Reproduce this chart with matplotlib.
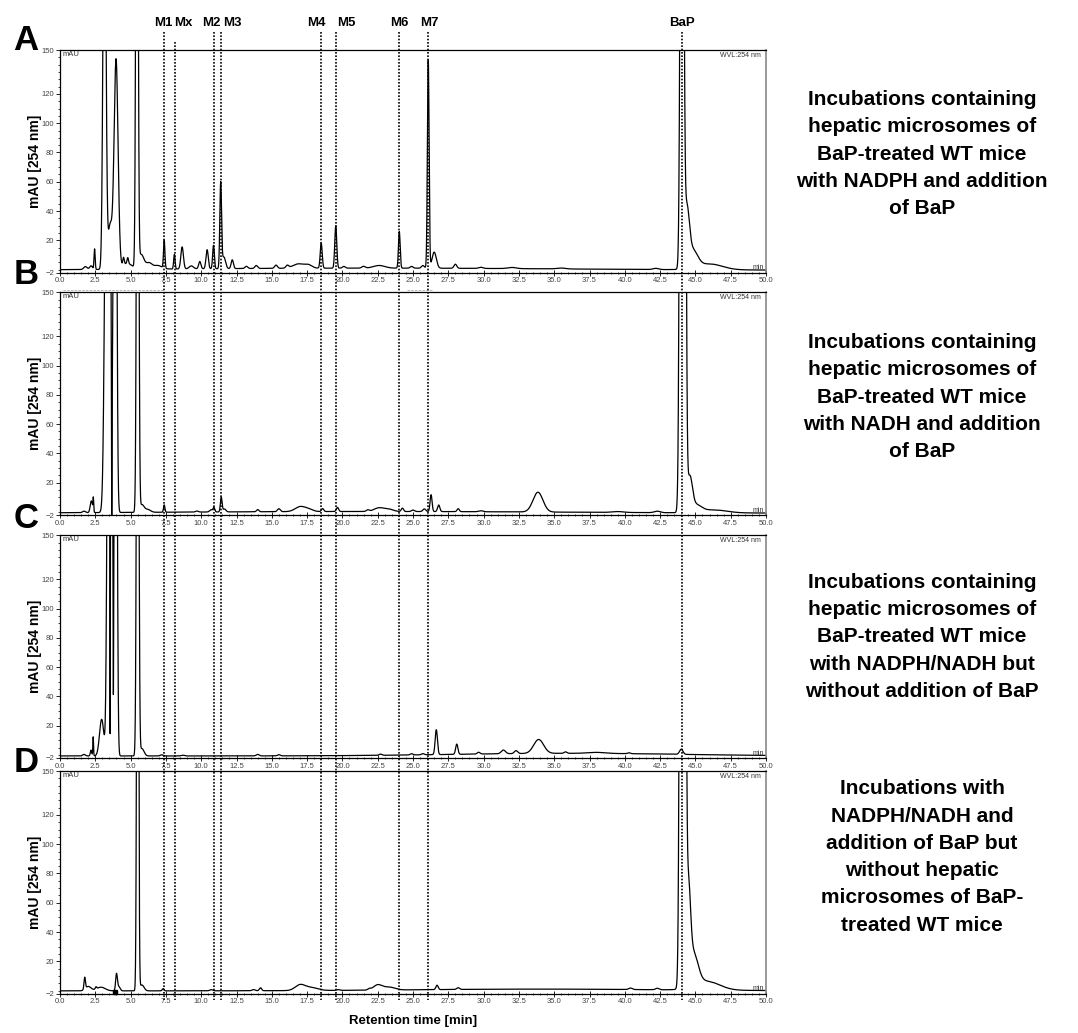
import numpy as np
import matplotlib.pyplot as plt
from matplotlib.ticker import MultipleLocator, FixedLocator

plt.rcParams['font.family'] = ['Liberation Sans', 'DejaVu Sans']

W_PX, H_PX = 1078, 1033

# time axis of the detector trace [min]
t = np.linspace(0, 50, 10001)

# peak tables:
# retention time [min], height [mAU], width (sigma) [min]
# negative heights are the narrow dips inside off-scale peak clusters
a_rt = [1.8, 2.2, 2.45, 3.15, 3.55, 3.97, 4.5, 4.8, 4.75, 5.45, 5.75, 6.3, 6.9,
        7.38, 8.1, 8.65, 9.3, 9.9, 10.42, 10.87, 11.38, 11.6, 12.2, 13.2, 13.9,
        15.3, 16.1, 16.9, 17.6, 18.5, 19.53, 20.1, 21.5, 22.6, 24.03, 24.9, 25.7,
        26.08, 26.5, 28.0, 29.8, 32.0, 35.5, 42.2, 44.05, 44.38, 44.8, 46.0, 22.0]
a_h = [2.0, 2.5, 14, 300, 30, 143, 5, 4, 4, 500, 10, 4, 2.5,
       19, 10, 15, 2, 5, 13, 16, 58, 8, 6, 1.5, 2,
       2.2, 1.8, 3.0, 2, 17, 29, 1.2, 1.2, 1.8, 25, 1.2, 1.8,
       142, 11, 2.8, 0.8, 0.8, 0.6, 0.8, 600, 38, 12, 4, 1.5]
a_w = [0.12, 0.1, 0.04, 0.1, 0.15, 0.14, 0.05, 0.05, 0.35, 0.07, 0.2, 0.2, 0.3,
       0.05, 0.05, 0.09, 0.15, 0.08, 0.08, 0.06, 0.06, 0.12, 0.08, 0.1, 0.1,
       0.1, 0.1, 0.4, 0.25, 0.07, 0.07, 0.1, 0.12, 0.4, 0.06, 0.1, 0.1,
       0.06, 0.15, 0.1, 0.15, 0.3, 0.3, 0.2, 0.1, 0.18, 0.35, 0.9, 14]
a_base = -0.5

b_rt = [1.7, 2.22, 2.36, 3.3, 3.5, 3.9, 3.66, 5.5, 5.8, 6.2, 7.38, 9.7, 10.7,
        10.9, 11.42, 11.65, 14.0, 15.5, 17.0, 17.6, 18.6, 19.65, 21.8, 22.6,
        23.3, 24.25, 25.0, 25.8, 26.28, 26.82, 28.2, 29.8, 33.85, 39.5, 42.3,
        44.1, 44.6, 45.0, 46.3, 22.0]
b_h = [1, 8, 9, 300, 300, 600, -115, 500, 5, 2, 5, 0.7, 1.5,
       3, 10, 2, 1.5, 2, 3.3, 1.5, 2, 2.8, 1, 2.5,
       1.5, 2.3, 1, 1.8, 11.5, 4.5, 2, 0.7, 13.5, 0.6, 1,
       2000, 22, 5, 2, 1.2]
b_w = [0.1, 0.08, 0.025, 0.13, 0.1, 0.09, 0.02, 0.07, 0.15, 0.2, 0.05, 0.1, 0.1,
       0.06, 0.06, 0.1, 0.08, 0.1, 0.35, 0.3, 0.08, 0.08, 0.1, 0.35,
       0.3, 0.08, 0.1, 0.1, 0.07, 0.08, 0.08, 0.15, 0.35, 0.4, 0.2,
       0.12, 0.18, 0.4, 0.9, 14]
b_base = -0.8

c_rt = [1.7, 2.2, 2.35, 2.95, 3.45, 3.67, 3.95, 3.55, 3.78, 5.5, 5.8, 7.2, 8.7,
        14.0, 15.5, 22.7, 24.9, 25.7, 26.65, 28.1, 29.65, 31.4, 32.3, 33.9,
        35.8, 38.0, 40.3, 44.0, 36.0]
c_h = [1, 4, 13, 25, 400, 300, 500, -268, -68, 500, 5, 0.8, 0.5,
       1, 0.8, 0.8, 0.8, 0.8, 17, 7, 1.2, 2.5, 2, 9.5,
       1, 0.7, 0.6, 3.5, 1.8]
c_w = [0.1, 0.05, 0.025, 0.15, 0.1, 0.06, 0.08, 0.015, 0.015, 0.07, 0.15, 0.1, 0.1,
       0.1, 0.1, 0.1, 0.1, 0.1, 0.08, 0.08, 0.1, 0.15, 0.12, 0.35,
       0.1, 0.6, 0.1, 0.12, 8]
c_base = -0.6

d_rt = [1.75, 2.0, 2.55, 2.9, 4.0, 4.15, 5.5, 5.8, 7.3, 10.7, 13.7, 14.2, 17.0,
        17.8, 19.7, 21.9, 22.5, 23.3, 26.7, 28.2, 40.4, 42.3, 44.1, 44.5, 44.85,
        45.8, 34.0]
d_h = [8, 3, 1.5, 2.5, 11, 3, 500, 4, 1.5, 0.8, 0.8, 2, 3.8,
       2, 0.5, 0.8, 3.5, 2, 3, 1.2, 1, 1, 2000, 60, 22,
       6, 1.2]
d_w = [0.05, 0.2, 0.05, 0.3, 0.06, 0.1, 0.06, 0.15, 0.06, 0.1, 0.1, 0.08, 0.35,
       0.45, 0.1, 0.1, 0.3, 0.4, 0.08, 0.1, 0.12, 0.12, 0.12, 0.15, 0.33,
       0.9, 9]
d_base = -0.2

# metabolite markers
mark_rt = [7.37, 8.14, 10.9, 11.38, 18.5, 19.53, 24.0, 26.06, 44.05]
mark_lbl = ['M1', 'Mx', 'M2', 'M3', 'M4', 'M5', 'M6', 'M7', 'BaP']

letters = ['A', 'B', 'C', 'D']
captions = [
    'Incubations containing\nhepatic microsomes of\nBaP-treated WT mice\nwith NADPH and addition\nof BaP',
    'Incubations containing\nhepatic microsomes of\nBaP-treated WT mice\nwith NADH and addition\nof BaP',
    'Incubations containing\nhepatic microsomes of\nBaP-treated WT mice\nwith NADPH/NADH but\nwithout addition of BaP',
    'Incubations with\nNADPH/NADH and\naddition of BaP but\nwithout hepatic\nmicrosomes of BaP-\ntreated WT mice',
]


def trace(rt, h, w, base):
    y = np.full_like(t, base)
    for r, hh, ww in zip(rt, h, w):
        y += hh * np.exp(-(t - r) ** 2 / (2 * ww ** 2))
    return y


traces = [trace(a_rt, a_h, a_w, a_base), trace(b_rt, b_h, b_w, b_base),
          trace(c_rt, c_h, c_w, c_base), trace(d_rt, d_h, d_w, d_base)]

# panel frames in pixels (top, bottom)
frames = [(50, 272.5), (292.3, 515), (535.3, 758), (771, 993.5)]
x_left, x_right = 60, 766
letter_y = [40, 275, 518, 762]
caption_y = [154, 397, 637, 857]


def fx(px):
    return px / W_PX


def fy(py):
    return 1 - py / H_PX


fig = plt.figure(figsize=(W_PX / 100, H_PX / 100), dpi=100)

axes = []
for i, (top, bot) in enumerate(frames):
    ax = fig.add_axes([fx(x_left), fy(bot), fx(x_right - x_left), (bot - top) / H_PX])
    ax.plot(t, traces[i], color='black', lw=0.9)
    ax.set_xlim(0, 50)
    ax.set_ylim(-2, 150)
    ax.xaxis.set_major_locator(MultipleLocator(2.5))
    ax.xaxis.set_minor_locator(MultipleLocator(0.5))
    ax.xaxis.set_major_formatter(lambda v, p: f'{v:.1f}')
    ax.yaxis.set_major_locator(FixedLocator([-2, 20, 40, 60, 80, 100, 120, 150]))
    ax.yaxis.set_minor_locator(MultipleLocator(5))
    ax.tick_params(axis='x', which='major', direction='inout', length=4, width=0.6,
                   labelsize=5.5, labelcolor='#444', pad=1.5)
    ax.tick_params(axis='x', which='minor', direction='inout', length=2, width=0.5)
    ax.tick_params(axis='y', which='major', direction='out', length=3, width=0.6,
                   labelsize=5.5, labelcolor='#444', pad=1)
    ax.tick_params(axis='y', which='minor', direction='out', length=1.5, width=0.5)
    for s in ['left', 'bottom', 'top']:
        ax.spines[s].set_linewidth(0.9)
    ax.spines['right'].set_color('#888')
    ax.spines['right'].set_linewidth(1.2)
    ax.text(0.004, 0.997, 'mAU', transform=ax.transAxes, ha='left', va='top',
            fontsize=5.5, color='#333')
    ax.text(0.993, 0.993, 'WVL:254 nm', transform=ax.transAxes, ha='right', va='top',
            fontsize=5, color='#333')
    ax.text(0.997, 0.006, 'min', transform=ax.transAxes, ha='right', va='bottom',
            fontsize=5, color='#333')
    ax.set_ylabel('mAU [254 nm]', fontsize=10, fontweight='bold')
    ax.yaxis.set_label_coords(-0.025, 0.5)
    axes.append(ax)
    fig.text(fx(26), fy(letter_y[i]), letters[i], fontsize=25, fontweight='bold',
             ha='center', va='center')
    fig.text(fx(922), fy(caption_y[i]), captions[i], fontsize=15, fontweight='bold',
             ha='center', va='center', linespacing=1.55)

# small instrument marker in panel D
axes[3].plot([3.87], [-1.2], marker='s', ms=2.2, color='black', clip_on=False)
# remnants of hidden trace titles above panel B
axes[1].plot([0.2, 7.4], [151.5, 151.5], ls=(0, (3, 1.5)), color='#aaa', lw=0.6, clip_on=False)
axes[1].plot([24.6, 26.4], [151.5, 151.5], ls=(0, (3, 1.5)), color='#aaa', lw=0.6, clip_on=False)

# dotted marker lines across all panels
ov_top, ov_bot = 20, 1000
ov = fig.add_axes([fx(x_left), fy(ov_bot), fx(x_right - x_left), (ov_bot - ov_top) / H_PX])
ov.set_xlim(0, 50)
ov.set_ylim(ov_bot, ov_top)
ov.axis('off')
line_top = [32, 42, 32, 32, 32, 32, 32, 32, 32]
lbl_dx = [-1, 8, -3, 12, -5, 11, 0, 1, 0]
for r, lbl, lt, dx in zip(mark_rt, mark_lbl, line_top, lbl_dx):
    ov.plot([r, r], [lt, ov_bot], color='black', ls=(0, (1, 1)), lw=1.2)
    ov.annotate(lbl, (r, 23), xytext=(dx * 0.72, 0), textcoords='offset points',
                ha='center', va='center', fontsize=9.5, fontweight='bold')

fig.text(fx(413), fy(1021), 'Retention time [min]', fontsize=9.5, fontweight='bold',
         ha='center', va='center')

fig.savefig('out.png', dpi=100)
